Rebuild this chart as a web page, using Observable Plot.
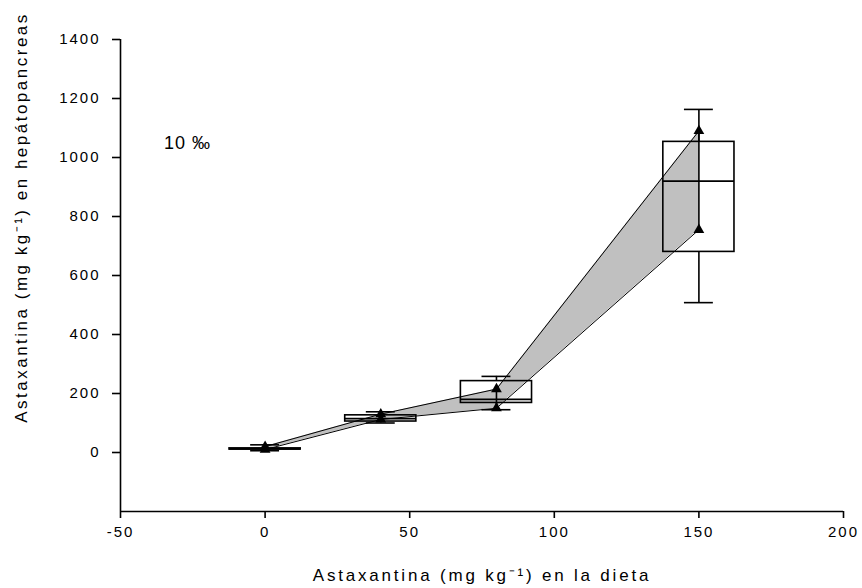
<!DOCTYPE html>
<html>
<head>
<meta charset="utf-8">
<script src="https://cdn.jsdelivr.net/npm/d3@7"></script>
<script src="https://cdn.jsdelivr.net/npm/@observablehq/plot@0.6"></script>
<style>
  html, body { margin: 0; padding: 0; background: #fff; }
  #chart svg { display: block; }
  #chart g[aria-label="x-axis tick label"] text,
  #chart g[aria-label="y-axis tick label"] text { letter-spacing: 2px; }
</style>
</head>
<body>
<div id="chart"></div>
<script>
// Astaxantina en la dieta (mg kg-1)
const dosis = [0, 40, 80, 150];

// Dos series de mediciones (triángulos)
const serieAlta = [20, 130, 215, 1090];
const serieBaja = [10, 112, 150, 755];

// Resumen tipo caja: cuartiles, mediana y bigotes
const cuartil1 = [10, 105, 168, 680];
const mediana = [12, 115, 180, 920];
const cuartil3 = [14, 126, 242, 1053];
const bigoteInf = [6, 100, 145, 508];
const bigoteSup = [26, 138, 258, 1163];

const ticksX = [-50, 0, 50, 100, 150, 200];
const ticksY = [0, 200, 400, 600, 800, 1000, 1200, 1400];

const etiquetaX = "Astaxantina (mg kg\u207B\u00B9) en la dieta";
const etiquetaY = "Astaxantina (mg kg\u207B\u00B9) en hepátopancreas";
const salinidad = "10 \u2030";

const filas = dosis.map((x, i) => ({
  x,
  alta: serieAlta[i],
  baja: serieBaja[i],
  q1: cuartil1[i],
  med: mediana[i],
  q3: cuartil3[i],
  lo: bigoteInf[i],
  hi: bigoteSup[i]
}));

const medioAncho = 12.3; // half box width in x units
const medioTope = 5;     // half whisker cap width in x units
const trazo = 1.6;

const chart = Plot.plot({
  width: 862,
  height: 588,
  marginLeft: 120,
  marginRight: 19,
  marginTop: 39,
  marginBottom: 77,
  style: { fontFamily: "'Liberation Sans', Arial, sans-serif", fontSize: "15px", color: "#000", background: "#fff" },
  x: { domain: [-50, 200] },
  y: { domain: [-200, 1400] },
  marks: [
    // shaded band between the two series
    Plot.areaY(filas, { x: "x", y1: "baja", y2: "alta", fill: "#c0c0c0", curve: "linear" }),
    Plot.line(filas, { x: "x", y: "alta", stroke: "#000", strokeWidth: 1 }),
    Plot.line(filas, { x: "x", y: "baja", stroke: "#000", strokeWidth: 1 }),
    // vertical link between the two series values
    Plot.ruleX(filas, { x: "x", y1: "baja", y2: "alta", stroke: "#000", strokeWidth: trazo }),
    // whiskers
    Plot.ruleX(filas, { x: "x", y1: "q3", y2: "hi", stroke: "#000", strokeWidth: trazo }),
    Plot.ruleX(filas, { x: "x", y1: "lo", y2: "q1", stroke: "#000", strokeWidth: trazo }),
    Plot.ruleY(filas, { y: "hi", x1: d => d.x - medioTope, x2: d => d.x + medioTope, stroke: "#000", strokeWidth: trazo }),
    Plot.ruleY(filas, { y: "lo", x1: d => d.x - medioTope, x2: d => d.x + medioTope, stroke: "#000", strokeWidth: trazo }),
    // boxes and medians
    Plot.rect(filas, { x1: d => d.x - medioAncho, x2: d => d.x + medioAncho, y1: "q1", y2: "q3", fill: "none", stroke: "#000", strokeWidth: trazo }),
    Plot.ruleY(filas, { y: "med", x1: d => d.x - medioAncho, x2: d => d.x + medioAncho, stroke: "#000", strokeWidth: trazo }),
    // data points
    Plot.dot(filas, { x: "x", y: "alta", symbol: "triangle", r: 4, fill: "#000", stroke: "none" }),
    Plot.dot(filas, { x: "x", y: "baja", symbol: "triangle", r: 4, fill: "#000", stroke: "none" }),
    // axes
    Plot.ruleX([-50], { stroke: "#000", strokeWidth: trazo }),
    Plot.ruleY([-200], { stroke: "#000", strokeWidth: trazo }),
    Plot.axisY({ ticks: ticksY, tickSize: 8, tickPadding: 12, tickFormat: d => String(d), label: null, fontSize: 15, strokeWidth: trazo }),
    Plot.axisX({ ticks: ticksX, tickSize: 7, tickPadding: 8, tickFormat: d => String(d), label: null, fontSize: 15, strokeWidth: trazo }),
    // axis titles
    Plot.text([etiquetaX], { frameAnchor: "bottom", textAnchor: "middle", lineAnchor: "middle", dy: 64, fontSize: 17, fill: "#000" }),
    Plot.text([etiquetaY], { frameAnchor: "left", textAnchor: "middle", lineAnchor: "middle", rotate: -90, dx: -99, dy: -58, fontSize: 17, fill: "#000" }),
    // salinity note
    Plot.text([salinidad], { x: () => -35, y: () => 1050, textAnchor: "start", fontSize: 18, fill: "#000" })
  ]
});

// wide letter spacing for the axis titles
d3.select(chart).selectAll("text")
  .filter(function () { return this.textContent === etiquetaX; })
  .style("letter-spacing", "2.8px");
d3.select(chart).selectAll("text")
  .filter(function () { return this.textContent === etiquetaY; })
  .style("letter-spacing", "2.5px");
d3.select(chart).selectAll("text")
  .filter(function () { return this.textContent === salinidad; })
  .style("letter-spacing", "1px");

document.getElementById("chart").appendChild(chart);
</script>
</body>
</html>
